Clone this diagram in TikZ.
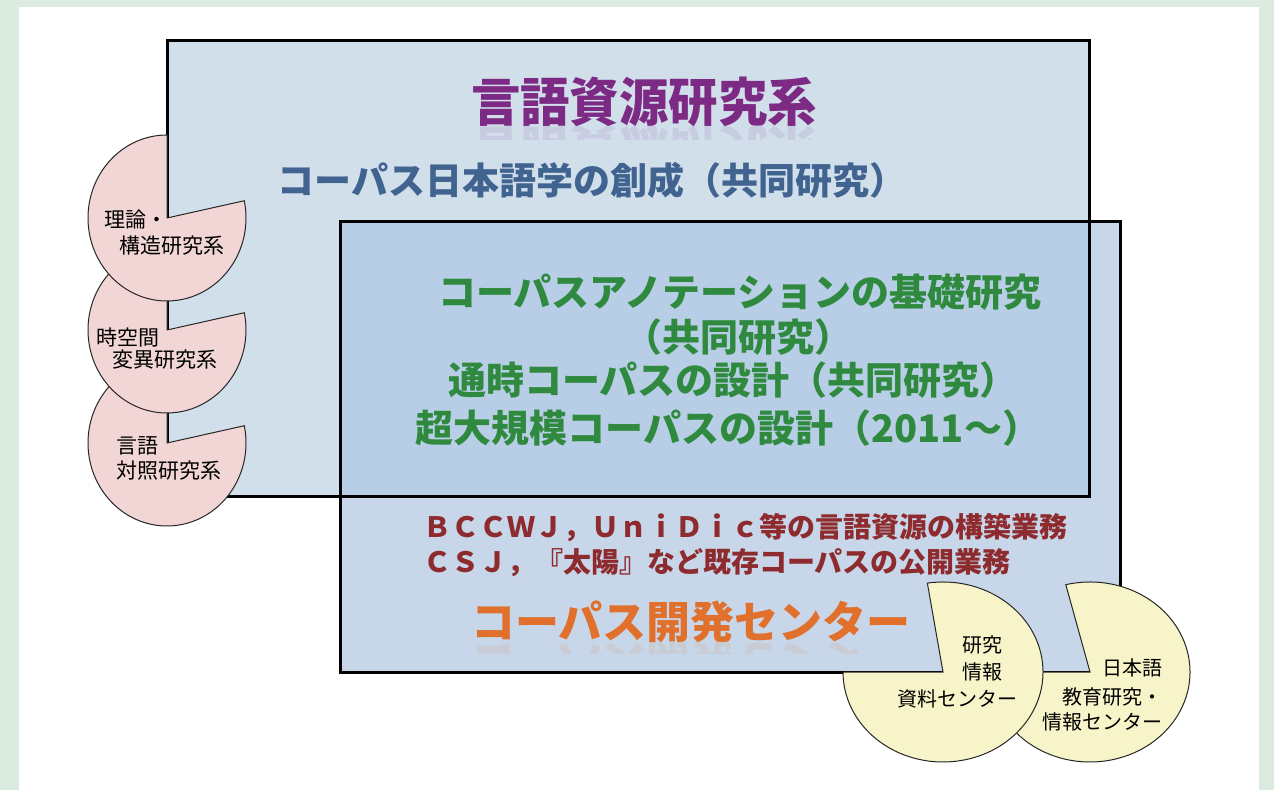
\documentclass[tikz,border=0pt]{standalone}
\usepackage{fontspec}
\setmainfont{Noto Sans CJK JP}
\usetikzlibrary{fadings}
\begin{document}
\begin{tikzpicture}[x=1pt,y=1pt,
  box/.style={draw=black,line width=3pt},
  pinkpie/.style={fill=pinkc,draw=black!85,line width=1pt},
  yelpie/.style={fill=yelc,draw=black!85,line width=1pt},
  small/.style={inner sep=0pt,font=\fontsize{21}{21}\selectfont,text=black},
  tiny/.style={inner sep=0pt,font=\fontsize{20}{20}\selectfont,text=black},
  greentxt/.style={inner sep=0pt,text=greenc,font=\fontsize{38}{38}\selectfont\bfseries},
  redtxt/.style={inner sep=0pt,text=redc,font=\fontsize{28}{28}\selectfont\bfseries},
  titletxt/.style={inner sep=0pt,text=purc,font=\fontsize{52}{52}\selectfont\bfseries,xscale=0.95},
  centertxt/.style={inner sep=0pt,text=orc,font=\fontsize{44}{44}\selectfont\bfseries}]
\definecolor{bgc}{HTML}{DCEBE0}
\definecolor{r1c}{HTML}{D1DFEB}
\definecolor{r2c}{HTML}{C7D7E9}
\definecolor{ovc}{HTML}{B8CEE6}
\definecolor{pinkc}{HTML}{F2D6D6}
\definecolor{yelc}{HTML}{F6F4C8}
\definecolor{purc}{HTML}{7D2A85}
\definecolor{subc}{HTML}{40638F}
\definecolor{greenc}{HTML}{2F8A3F}
\definecolor{redc}{HTML}{8E2B2E}
\definecolor{orc}{HTML}{E0702C}
% background
\fill[bgc] (0,0) rectangle (1274,790);
\fill[white] (19,0) rectangle (1259,783);
\useasboundingbox (0,0) rectangle (1274,790);
% rectangles
\fill[r1c] (167,293) rectangle (1089,749);
\fill[r2c] (340,118) rectangle (1120,568);
\fill[ovc] (340,293) rectangle (1089,568);
\draw[box] (167,293) rectangle (1089,749);
\draw[box] (340,118) rectangle (1120,568);
% faint reflections
\begin{scope}
  \clip (400,650) rectangle (900,664);
  \node[titletxt,yscale=-1,opacity=0.10] (titlerefl) at (644,640) {言語資源研究系};
\end{scope}
\begin{scope}
  \clip (440,136) rectangle (930,148);
  \node[centertxt,yscale=-1,opacity=0.10] (centerrefl) at (691,128) {コーパス開発センター};
\end{scope}
% texts in rectangles
\node[titletxt] (title) at (644,688) {言語資源研究系};
\node[inner sep=0pt,text=subc,font=\fontsize{37}{37}\selectfont\bfseries] (sub) at (592,610) {コーパス日本語学の創成（共同研究）};
\node[greentxt] (g1) at (740,498) {コーパスアノテーションの基礎研究};
\node[greentxt] (g2) at (738,453) {（共同研究）};
\node[greentxt] (g3) at (733,410) {通時コーパスの設計（共同研究）};
\node[greentxt] (g4) at (728,362) {超大規模コーパスの設計（2011～）};
\node[redtxt,anchor=west] (r1) at (423,262) {ＢＣＣＷＪ，ＵｎｉＤｉｃ等の言語資源の構築業務};
\node[redtxt,anchor=west] (r2) at (423,227) {ＣＳＪ，『太陽』など既存コーパスの公開業務};
\node[centertxt] (center) at (691,168) {コーパス開発センター};
% pink pies (bottom first)
\coordinate (p3) at (167,347);
\coordinate (p2) at (167,460);
\coordinate (p1) at (167,572);
\foreach \p in {p3,p2,p1}{
  \path[pinkpie] (\p) -- ++(90:79pt and 83pt) arc[start angle=90,end angle=372,x radius=79pt,y radius=83pt] -- cycle;
}
\node[small,anchor=west] (t1a) at (104,570) {理論・};
\node[small,anchor=west] (t1b) at (119,544) {構造研究系};
\node[small,anchor=west] (t2a) at (96,452) {時空間};
\node[small,anchor=west] (t2b) at (112,430) {変異研究系};
\node[small,anchor=west] (t3a) at (116,344) {言語};
\node[small,anchor=west] (t3b) at (116,319) {対照研究系};
% yellow pies
\coordinate (yb) at (1090,118);
\coordinate (ya) at (943,118);
\path[yelpie] (yb) -- ++(104:100pt and 90pt) arc[start angle=104,end angle=-180,x radius=100pt,y radius=90pt] -- cycle;
\path[yelpie] (ya) -- ++(99:100pt and 90pt) arc[start angle=99,end angle=-180,x radius=100pt,y radius=90pt] -- cycle;
\node[tiny,anchor=west] (ya1) at (962,145) {研究};
\node[tiny,anchor=west] (ya2) at (962,118) {情報};
\node[tiny,anchor=west] (ya3) at (897,91) {資料センター};
\node[tiny,anchor=east] (yb1) at (1163,122) {日本語};
\node[tiny,anchor=east] (yb2) at (1163,93) {教育研究・};
\node[tiny,anchor=east] (yb3) at (1163,68) {情報センター};
\end{tikzpicture}
\end{document}
